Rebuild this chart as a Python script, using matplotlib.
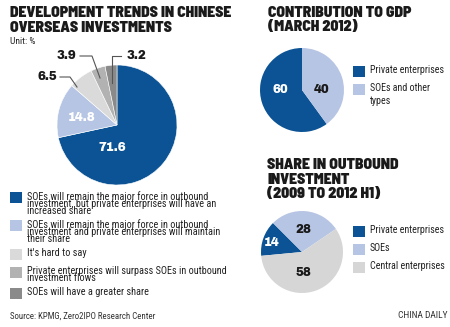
import matplotlib
matplotlib.use("Agg")
import matplotlib.pyplot as plt
from matplotlib.patches import Rectangle

# ============ Data ============
trend_values = [71.6, 14.8, 6.5, 3.9, 3.2]
trend_labels = [
    "SOEs will remain the major force in outbound\ninvestment, but private enterprises will have an\nincreased share",
    "SOEs will remain the major force in outbound\ninvestment and private enterprises will maintain\ntheir share",
    "It's hard to say",
    "Private enterprises will surpass SOEs in outbound\ninvestment flows",
    "SOEs will have a greater share",
]
gdp_values = [60, 40]
gdp_labels = ["Private enterprises", "SOEs and other\ntypes"]
share_values = [14, 28, 58]
share_labels = ["Private enterprises", "SOEs", "Central enterprises"]

BLUE = "#0b5394"
LIGHT_BLUE = "#b7c5e4"
trend_colors = [BLUE, LIGHT_BLUE, "#dadada", "#b2b2b2", "#8a8a8a"]
gdp_colors = [BLUE, LIGHT_BLUE]
share_colors = [BLUE, LIGHT_BLUE, "#d6d6d6"]

# ============ Fonts ============
HEAVY = dict(family=["Barlow Semi Condensed", "DejaVu Sans"], fontweight=900)
DIGITS = dict(family=["Archivo Black", "DejaVu Sans"])
plt.rcParams["font.family"] = ["Roboto Condensed", "DejaVu Sans"]

W, H = 450, 327
fig = plt.figure(figsize=(W / 100, H / 100), dpi=100)
ax = fig.add_axes([0, 0, 1, 1])


def Y(y):
    # image coords (top-down) -> axes coords
    return H - y


def title(x, y, lines, step=14.5):
    for i, t in enumerate(lines):
        ax.text(x, Y(y + i * step), t, fontsize=11.2, color="#1a1a1a",
                va="center", ha="left", **HEAVY)


def num(x, y, value, color="#1a1a1a", size=8.5):
    ax.text(x, Y(y), f"{value}", color=color, fontsize=size,
            ha="center", va="center", **DIGITS)


def legend(x, ys, labels, colors, size=7.4, spacing=0.66, box=11):
    for yc, lab, col in zip(ys, labels, colors):
        ax.add_patch(Rectangle((x, Y(yc) - box / 2), box + 1, box, color=col, lw=0))
        ax.text(x + box + 6, Y(yc - 6), lab, fontsize=size, color="#222222",
                va="top", ha="left", linespacing=spacing)


# ============ Main pie ============
title(10, 13, ["DEVELOPMENT TRENDS IN CHINESE", "OVERSEAS INVESTMENTS"])
ax.text(10, Y(42), "Unit: %", fontsize=6.8, color="#222222", va="center")

cx, cy, r = 117, 125, 60
ax.pie(trend_values, colors=trend_colors, startangle=90, counterclock=False,
       center=(cx, Y(cy)), radius=r, frame=True,
       wedgeprops=dict(edgecolor="white", linewidth=0.4))
num(cx - 5, cy + 23, trend_values[0], "white")
num(cx - 35, cy - 7, trend_values[1], "white")

# outside labels with leader lines
lead = "#555555"
num(47, 77, trend_values[2])
ax.plot([60, 70, 77], [Y(77), Y(77), Y(87)], color=lead, lw=0.8)
num(66, 56, trend_values[3])
ax.plot([80, 92, 100], [Y(56), Y(56), Y(78)], color=lead, lw=0.8)
num(136, 56, trend_values[4])
ax.plot([121, 112, 112], [Y(56), Y(56), Y(83)], color=lead, lw=0.8)

legend(10, [197, 225, 254, 272, 293], trend_labels, trend_colors)

# ============ GDP pie ============
title(268, 13, ["CONTRIBUTION TO GDP", "(MARCH 2012)"])
gx, gy, gr = 302, 90, 42
ax.pie(gdp_values, colors=gdp_colors, startangle=90, counterclock=True,
       center=(gx, Y(gy)), radius=gr, frame=True)
num(gx - 22, gy, gdp_values[0], "white")
num(gx + 20, gy, gdp_values[1])
legend(353, [71, 89], gdp_labels, gdp_colors, size=7.2, spacing=1.4)

# ============ Outbound share pie ============
title(267, 165, ["SHARE IN OUTBOUND", "INVESTMENT", "(2009 TO 2012 H1)"])
sx, sy, sr = 302, 252, 41
ax.pie(share_values, colors=share_colors, startangle=185.4, counterclock=False,
       center=(sx, Y(sy)), radius=sr, frame=True)
num(sx - 30, sy - 9, share_values[0], "white")
num(sx + 1, sy - 22, share_values[1])
num(sx + 1, sy + 21, share_values[2])
legend(353, [231, 249, 267], share_labels, share_colors, size=7.2)

# ============ Footer ============
ax.text(10, Y(316), "Source: KPMG, Zero2IPO Research Center", fontsize=6.4,
        color="#333333", va="center")
ax.text(447, Y(316), "CHINA DAILY", fontsize=6.8, color="#333333",
        va="center", ha="right")

ax.set_xlim(0, W)
ax.set_ylim(0, H)
ax.set_aspect("auto")
ax.axis("off")
fig.savefig("out.png", dpi=100, facecolor="white")
